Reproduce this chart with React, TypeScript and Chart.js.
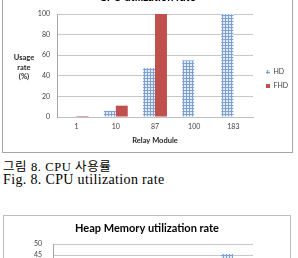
import React, { useEffect, useRef } from 'react';
import { Chart, registerables } from 'chart.js';

Chart.register(...registerables);

// ---- data ----
const relayModules = ['1', '10', '87', '100', '183'];
const seriesNames = ['HD', 'FHD'];
const cpuHD = [0, 6, 47.5, 55, 100];
const cpuFHD = [1, 11, 100, 0, 0];
const cpuMax = 100;
const cpuStep = 20;
// Heap chart: only the top of the 183 HD bar is visible in the picture
const heapHD = [null, null, null, null, 45.5];
const heapFHD = [null, null, null, null, null];
const heapMax = 50;
const heapStep = 5;

const cpuTitle = 'CPU utilization rate';
const heapTitle = 'Heap Memory utilization rate';
const xTitle = 'Relay Module';
const yTitleLines = ['Usage', 'rate', '(%)'];
const captionKo = '그림 8. CPU 사용률';
const captionEn = 'Fig. 8. CPU utilization rate';

const FONT = 'Lato, "Liberation Sans", sans-serif';
const RED = '#c0504d';

function makeHatch(ctx: CanvasRenderingContext2D) {
  const c = document.createElement('canvas');
  c.width = 3;
  c.height = 3;
  const g = c.getContext('2d')!;
  g.fillStyle = '#e4ecf7';
  g.fillRect(0, 0, 3, 3);
  g.fillStyle = '#7ea1d4';
  g.fillRect(0, 0, 3, 1);
  g.fillRect(0, 0, 1, 3);
  return ctx.createPattern(c, 'repeat') as CanvasPattern;
}

type Cfg = {
  width: number;
  height: number;
  title: string;
  hd: (number | null)[];
  fhd: (number | null)[];
  max: number;
  step: number;
  padTop: number;
  titlePadBottom: number;
  yWidth: number;
  yTickPad: number;
  xHeight: number;
  xTitlePadBottom: number;
  legendWidth: number;
  legendShift: number;
  catPct: number;
};

function BarChart({ cfg }: { cfg: Cfg }) {
  const ref = useRef<HTMLCanvasElement | null>(null);
  useEffect(() => {
    const canvas = ref.current!;
    const ctx = canvas.getContext('2d')!;
    const hatch = makeHatch(ctx);
    const tickFont = { family: FONT, size: 7 };
    const chart = new Chart(ctx, {
      type: 'bar',
      data: {
        labels: relayModules,
        datasets: [
          {
            label: seriesNames[0],
            data: cfg.hd,
            backgroundColor: hatch,
            borderWidth: 0,
            categoryPercentage: cfg.catPct,
            barPercentage: 1,
          },
          {
            label: seriesNames[1],
            data: cfg.fhd,
            backgroundColor: RED,
            borderWidth: 0,
            categoryPercentage: cfg.catPct,
            barPercentage: 1,
          },
        ],
      },
      options: {
        responsive: false,
        animation: false,
        devicePixelRatio: 1,
        layout: { padding: { top: cfg.padTop, left: 0, right: 0, bottom: 0 } },
        plugins: {
          tooltip: { enabled: false },
          title: {
            display: true,
            text: cfg.title,
            color: '#000',
            font: { family: FONT, size: 11, weight: 'bold' },
            padding: { top: 0, bottom: cfg.titlePadBottom },
          },
          legend: {
            position: 'right',
            align: 'center',
            fullSize: false,
            maxWidth: cfg.legendWidth,
            title: {
              display: true,
              text: '',
              font: { size: 7 },
              padding: { top: cfg.legendShift, bottom: 0 },
            },
            labels: {
              boxWidth: 4,
              boxHeight: 4,
              padding: 7,
              color: '#404040',
              font: { family: FONT, size: 7 },
            },
          },
        },
        scales: {
          x: {
            grid: { display: false, drawTicks: false },
            border: { display: true, color: '#bfbfbf' },
            ticks: { padding: 6, color: '#404040', font: tickFont },
            title: {
              display: true,
              text: xTitle,
              color: '#262626',
              font: { family: FONT, size: 7.5, weight: 'bold' },
              padding: { top: 3, bottom: cfg.xTitlePadBottom },
            },
            afterFit: (s: any) => {
              s.height = cfg.xHeight;
            },
          },
          y: {
            min: 0,
            max: cfg.max,
            ticks: {
              stepSize: cfg.step,
              autoSkip: false,
              padding: cfg.yTickPad,
              color: '#404040',
              font: tickFont,
            },
            grid: { color: '#c8c8c8', drawTicks: false },
            border: { display: true, color: '#a6a6a6' },
            afterFit: (s: any) => {
              s.width = cfg.yWidth;
            },
          },
          gap: {
            type: 'linear',
            position: 'right',
            display: true,
            grid: { display: false, drawTicks: false },
            border: { display: false },
            ticks: { display: false },
            afterFit: (s: any) => {
              s.width = 6;
            },
          },
        },
      } as any,
    });
    return () => chart.destroy();
  }, [cfg]);
  return (
    <canvas
      ref={ref}
      width={cfg.width}
      height={cfg.height}
      style={{ display: 'block', width: cfg.width, height: cfg.height }}
    />
  );
}

const cpuCfg: Cfg = {
  width: 289,
  height: 182,
  title: cpuTitle,
  hd: cpuHD,
  fhd: cpuFHD,
  max: cpuMax,
  step: cpuStep,
  padTop: 21.2,
  titlePadBottom: 9.6,
  yWidth: 54,
  yTickPad: 7,
  xHeight: 35,
  xTitlePadBottom: 6.5,
  legendWidth: 33,
  legendShift: 18.6,
  catPct: 0.61,
};

const heapCfg: Cfg = {
  width: 286,
  height: 190,
  title: heapTitle,
  hd: heapHD,
  fhd: heapFHD,
  max: heapMax,
  step: heapStep,
  padTop: 5.4,
  titlePadBottom: 9.4,
  yWidth: 49,
  yTickPad: 11,
  xHeight: 52,
  xTitlePadBottom: 20,
  legendWidth: 31,
  legendShift: 18.6,
  catPct: 0.6,
};

export default function App() {
  return (
    <div
      style={{
        position: 'fixed',
        left: 0,
        top: 0,
        width: 298,
        height: 258,
        overflow: 'hidden',
        background: '#fff',
      }}
    >
      <div
        style={{
          position: 'absolute',
          left: 2,
          top: -31,
          width: 289,
          height: 182,
          border: '1px solid #a6a6a6',
        }}
      >
        <BarChart cfg={cpuCfg} />
        <div
          style={{
            position: 'absolute',
            left: 8,
            top: 83,
            width: 26,
            textAlign: 'center',
            fontFamily: FONT,
            fontWeight: 'bold',
            fontSize: 7.5,
            lineHeight: '9.5px',
            color: '#262626',
          }}
        >
          {yTitleLines.map((l) => (
            <div key={l}>{l}</div>
          ))}
        </div>
      </div>
      <div
        style={{
          position: 'absolute',
          left: 3,
          top: 160,
          whiteSpace: 'nowrap',
          fontFamily: '"Liberation Serif", "Noto Sans CJK KR", serif',
          fontSize: 12.5,
          letterSpacing: 0.6,
          lineHeight: '15px',
          color: '#000',
        }}
      >
        {captionKo}
      </div>
      <div
        style={{
          position: 'absolute',
          left: 3,
          top: 172,
          whiteSpace: 'nowrap',
          fontFamily: '"Liberation Serif", serif',
          fontSize: 14,
          letterSpacing: 0.35,
          lineHeight: '15px',
          color: '#000',
        }}
      >
        {captionEn}
      </div>
      <div
        style={{
          position: 'absolute',
          left: 3,
          top: 215,
          width: 286,
          height: 190,
          border: '1px solid #bfbfbf',
        }}
      >
        <BarChart cfg={heapCfg} />
      </div>
    </div>
  );
}
